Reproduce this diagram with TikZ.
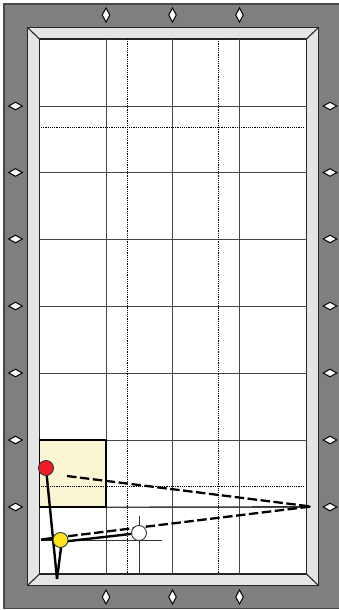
\documentclass[tikz,border=0pt]{standalone}
\usetikzlibrary{shapes.geometric}
\definecolor{felt}{HTML}{7F7F7F}
\definecolor{rail}{HTML}{E4E6E5}
\definecolor{zone}{HTML}{FAF5D2}
\definecolor{redball}{HTML}{EE1C25}
\definecolor{yelball}{HTML}{FCE51E}
\definecolor{edge}{HTML}{262626}
\tikzset{
  x=1pt,y=-1pt,
  gridline/.style={draw=edge!85,line width=1.15pt},
  dotline/.style={draw=black,line width=0.8pt,dash pattern=on 1.2pt off 1pt},
  thinline/.style={draw=black!80,line width=0.8pt},
  shot/.style={draw=black,line width=2.3pt,dash pattern=on 9.5pt off 3.5pt},
  cue/.style={draw=black,line width=2.4pt},
  ball/.style={circle,draw=black!80,line width=0.9pt,minimum size=15pt,inner sep=0pt},
  sight/.style={diamond,draw=black,line width=1pt,fill=white,inner sep=0pt,aspect=1.8,minimum width=14pt,minimum height=8pt},
  sightv/.style={diamond,draw=black,line width=1pt,fill=white,inner sep=0pt,minimum width=8pt,minimum height=14.5pt,aspect=0.55},
}
\begin{document}
\begin{tikzpicture}
\useasboundingbox (0,0) rectangle (339,610);
\clip (0,0) rectangle (339,610);
\fill[white] (0,0) rectangle (339,610);
\draw[fill=felt,draw=edge!85,line width=1.1pt] (4,4) rectangle (345,608.5);
\draw[fill=rail,draw=edge,line width=1.4pt] (27.5,27.5) rectangle (318.5,585.5);
\draw[fill=white,draw=edge,line width=1.5pt] (39.5,39) rectangle (306.5,574);
\draw[draw=edge,line width=1.1pt] (27.5,27.5)--(39.5,39) (318.5,27.5)--(306.5,39) (27.5,585.5)--(39.5,574) (318.5,585.5)--(306.5,574);
\fill[zone] (39.5,440) rectangle (106,507);
\foreach \x in {106.25,172.75,239.75} \draw[gridline] (\x,39) -- (\x,574);
\foreach \y in {106.25,172.75,239.25,306.25,373.25,440.25,507.25} \draw[gridline] (39.5,\y) -- (306.5,\y);
\foreach \x in {127.5,218.5} \draw[dotline] (\x,39) -- (\x,574);
\foreach \y in {127.5,486.5} \draw[dotline] (41,\y) -- (305,\y);
\draw[draw=black,line width=1.9pt] (39.5,440) rectangle (106,507);
\foreach \x in {106,172.5,239.5} {
  \node[sightv] at (\x,15) {};
  \node[sightv] at (\x,597) {};
}
\foreach \y in {106,172.5,239,306,373,440,507} {
  \node[sight] at (15.5,\y) {};
  \node[sight] at (330,\y) {};
}
\coordinate (tip) at (57,579);
\coordinate (aim) at (311,506.5);
\coordinate (start) at (67,476);
\coordinate (back) at (41,539.5);
\coordinate (lft) at (41,540.5);
\coordinate (rgt) at (162,540.5);
\coordinate (up) at (139,516);
\coordinate (dn) at (139,574);
\draw[thinline] (lft) -- (rgt);
\draw[thinline] (up) -- (dn);
\draw[thinline] (106,507) -- (aim);
\draw[shot] (start) -- (aim) -- (back);
\node[ball,fill=white] (w) at (139,533) {};
\draw[cue] (46,468) -- (tip);
\draw[cue] (62,540) -- (tip);
\draw[cue] (60.5,542) -- (w);
\draw[cue] (back) -- (60.5,538.5);
\node[ball,fill=yelball] (y) at (60.5,540) {};
\node[ball,fill=redball] (r) at (46,468) {};
\end{tikzpicture}
\end{document}
